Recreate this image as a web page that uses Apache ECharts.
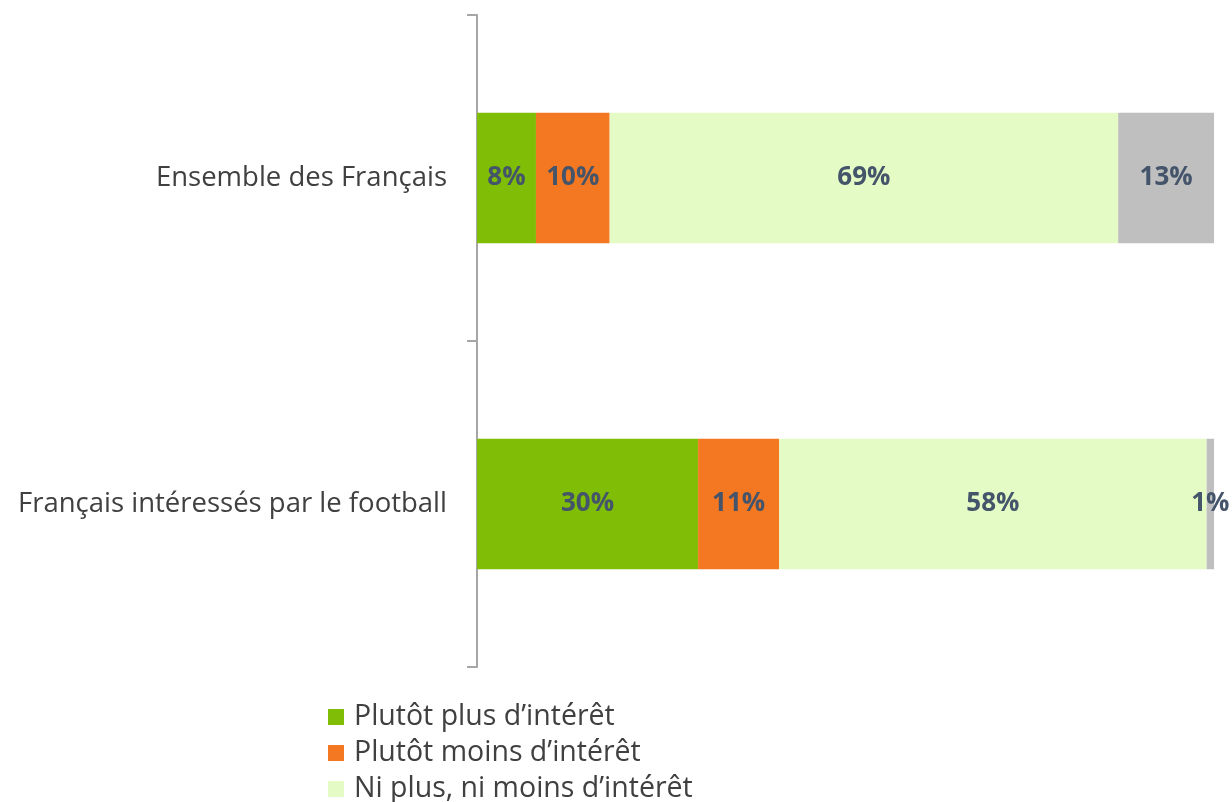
<!DOCTYPE html>
<html>
<head>
    <meta charset="utf-8">
    <title>intérêt football</title>
    <script src="https://cdn.jsdelivr.net/npm/echarts@6/dist/echarts.min.js"></script>
</head>
<body style="margin:0;">
<div id="main" style="width:1232px;height:802px;"></div>
<script type="text/javascript">
    // categories (top to bottom)
    var categories = ['Ensemble des Français', 'Français intéressés par le football'];
    var seriesNames = ['Plutôt plus d\u2019intérêt', 'Plutôt moins d\u2019intérêt', 'Ni plus, ni moins d\u2019intérêt', 'Ne se prononce pas'];
    var plusInteret = [8, 30];
    var moinsInteret = [10, 11];
    var niPlusNiMoins = [69, 58];
    var nsp = [13, 1];
    var colors = ['#7fbd06', '#f47722', '#e5fbc6', '#bfbfbf'];

    var myChart = echarts.init(document.getElementById('main'));
    var font = 'Open Sans';

    var values = [plusInteret, moinsInteret, niPlusNiMoins, nsp];
    var series = values.map(function (vals, i) {
        return {
            name: seriesNames[i],
            type: 'bar',
            stack: 'total',
            barWidth: '40%',
            itemStyle: { color: colors[i] },
            label: {
                show: true,
                position: 'inside',
                formatter: '{c}%',
                color: '#44546a',
                fontFamily: font,
                fontWeight: 'bold',
                fontSize: 26
            },
            data: vals
        };
    });

    myChart.setOption({
        animation: false,
        textStyle: { fontFamily: font },
        grid: { left: 477, right: 18, top: 15, bottom: 135 },
        xAxis: {
            type: 'value',
            min: 0,
            max: 100,
            show: false
        },
        yAxis: {
            type: 'category',
            inverse: true,
            data: categories,
            axisLine: { show: true, lineStyle: { color: '#a6a6a6', width: 2 } },
            axisTick: { show: true, length: 10, lineStyle: { color: '#a6a6a6', width: 2 } },
            axisLabel: { margin: 30, color: '#404040', fontSize: 27.5, fontFamily: font }
        },
        legend: {
            orient: 'vertical',
            left: 323,
            top: 701,
            height: 110,
            padding: [0, 5],
            itemWidth: 16,
            itemHeight: 16,
            itemGap: 4,
            icon: 'rect',
            data: seriesNames.slice(0, 3),
            textStyle: { color: '#404040', fontSize: 28.5, lineHeight: 32, padding: [0, 0, 0, 5], fontFamily: font }
        },
        series: series
    });
</script>
</body>
</html>
